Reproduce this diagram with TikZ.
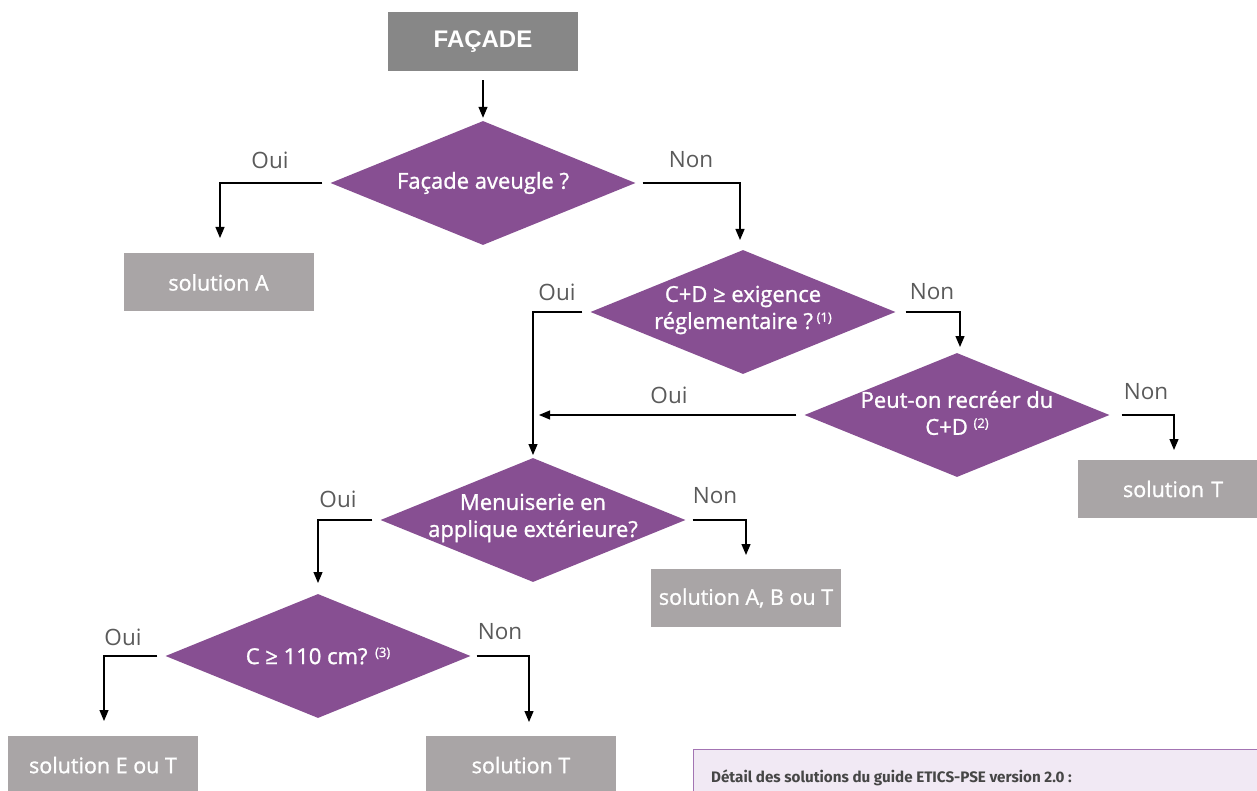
\documentclass[tikz,border=0pt]{standalone}
\usepackage{fontspec}
\setmainfont{Open Sans}
\newfontfamily\semifont[FakeBold=1.2]{Open Sans}
\newfontfamily\facadefont{Liberation Sans}
\newfontfamily\detfont{Fira Sans}
\usetikzlibrary{shapes.geometric,arrows.meta,positioning,calc}
\definecolor{dpurple}{HTML}{874F92}
\definecolor{fgray}{HTML}{878787}
\definecolor{sgray}{HTML}{A9A5A6}
\definecolor{lgray}{HTML}{5A5A5A}
\definecolor{lav}{HTML}{F1E9F4}
\definecolor{lavline}{HTML}{A374B3}
\definecolor{dtext}{HTML}{464646}
\newcommand{\sups}[1]{\raisebox{0.6ex}{\fontsize{13}{14}\selectfont (#1)}}
\tikzset{
  dia/.style={shape=diamond, fill=dpurple, draw=none, minimum width=305pt, minimum height=124pt, inner sep=0pt},
  dtext/.style={text=white, align=center, font=\semifont\fontsize{22}{27}\selectfont},
  solbox/.style={fill=sgray, draw=none, text=white, minimum width=190pt, minimum height=58pt, inner sep=0pt, font=\semifont\fontsize{21.5}{24}\selectfont},
  arr/.style={-{Triangle[length=11pt,width=9pt]}, line width=1.2pt, black},
  lab/.style={text=lgray, font=\fontsize{22.5}{25}\selectfont},
}
\begin{document}
\begin{tikzpicture}[x=1pt,y=-1pt]
\useasboundingbox (0,0) rectangle (1257,791);
% start box
\node[fill=fgray, minimum width=190pt, minimum height=59pt, inner sep=0pt, text=white, font=\facadefont\bfseries\fontsize{24}{28}\selectfont] (facade) at (483,41.5) {\raisebox{-2pt}{FAÇADE}};
% diamonds
\node[dia] (d1) at (483,183) {};
\node[dtext] (t1) at (d1.center) {Façade aveugle ?};
\node[dia] (d2) at (743,312) {};
\node[dtext] (t2) at (743,310) {C+D ≥ exigence\\réglementaire ?\,\sups{1}};
\node[dia] (d3) at (957,415) {};
\node[dtext] (t3) at (957,413) {Peut-on recréer du\\C+D \sups{2}};
\node[dia] (d4) at (533,520) {};
\node[dtext] (t4) at (533,518) {Menuiserie en\\applique extérieure?};
\node[dia] (d5) at (318,656) {};
\node[dtext] (t5) at (d5.center) {C ≥ 110 cm? \sups{3}};
% solution boxes
\node[solbox] (solA) at (218.5,282.5) {solution A};
\node[solbox, minimum width=192pt, text width=178pt, align=left] (solT1) at (1174,489) {\hspace*{38pt}solution T};
\node[solbox] (solABT) at (746,598) {solution A, B ou T};
\node[solbox, minimum height=60pt] (solET) at (103,766) {\raisebox{2pt}{solution E ou T}};
\node[solbox, minimum height=60pt] (solT2) at (521,766) {\raisebox{2pt}{solution T}};
% detail box
\node[fill=lav, draw=lavline, line width=1pt, minimum width=580pt, minimum height=60pt, anchor=north west, inner sep=0pt] (det) at (693,748.5) {};
\node[anchor=base west, text=dtext, font=\detfont\bfseries\fontsize{15.2}{19}\selectfont, inner sep=0pt] (dett) at (711,782) {Détail des solutions du guide ETICS-PSE version 2.0 :};
% tip coordinates
\coordinate (tA) at (220,238);
\coordinate (tN1) at (740,240);
\coordinate (tO2) at (533,455);
\coordinate (tN2) at (960,347);
\coordinate (tO3) at (539,415);
\coordinate (tN3) at (1174,450);
\coordinate (tO4) at (318,583);
\coordinate (tN4) at (746,555);
\coordinate (tO5) at (104,721);
\coordinate (tN5) at (529,722);
% connectors
\draw[arr] ([yshift=-9pt]facade.south) -- ([yshift=3pt]d1.north);
\draw[arr] ([xshift=-8pt]d1.west) -| (tA);
\draw[arr] ([xshift=7pt]d1.east) -| (tN1);
\draw[arr] ([xshift=-8pt]d2.west) -| (tO2);
\draw[arr] ([xshift=10pt]d2.east) -| (tN2);
\draw[arr] ([xshift=-8pt]d3.west) -- (tO3);
\draw[arr] ([xshift=12pt]d3.east) -| (tN3);
\draw[arr] ([xshift=-8pt]d4.west) -| (tO4);
\draw[arr] ([xshift=7pt]d4.east) -| (tN4);
\draw[arr] ([xshift=-8pt]d5.west) -| (tO5);
\draw[arr] ([xshift=6pt]d5.east) -| (tN5);
% labels
\node[lab] (l1o) at (270,160) {Oui};
\node[lab] (l1n) at (691,160) {Non};
\node[lab] (l2o) at (557,292) {Oui};
\node[lab] (l2n) at (932,292) {Non};
\node[lab] (l3o) at (669,395) {Oui};
\node[lab] (l3n) at (1146,392) {Non};
\node[lab] (l4o) at (338,499) {Oui};
\node[lab] (l4n) at (715,496) {Non};
\node[lab] (l5o) at (123,637) {Oui};
\node[lab] (l5n) at (500,632) {Non};
\end{tikzpicture}
\end{document}
